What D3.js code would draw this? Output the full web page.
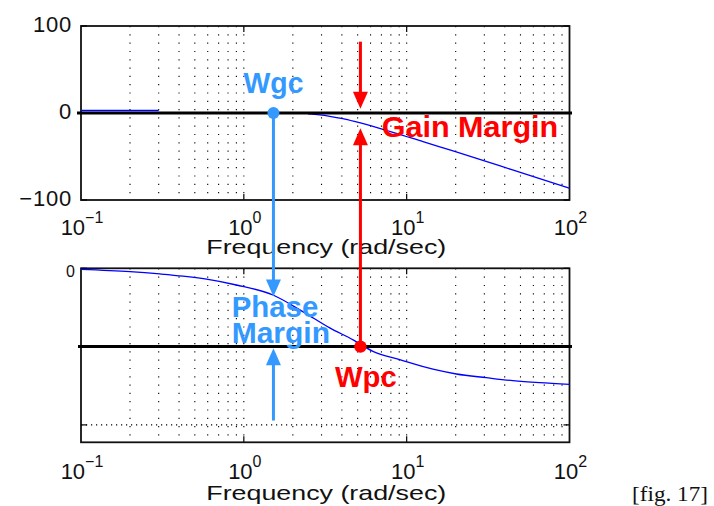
<!DOCTYPE html>
<html>
<head>
<meta charset="utf-8">
<script src="https://cdn.jsdelivr.net/npm/d3@7"></script>
<style>
  html, body { margin: 0; padding: 0; background: #fff; }
  svg { display: block; }
</style>
</head>
<body>
<div id="chart"></div>
<script>
// ---- data ----
const freqTicks = [0.1, 1, 10, 100];
const freqTickExp = ["\u22121", "0", "1", "2"];
const magTicks = [100, 0, -100];
const magTickLabels = ["100", "0", "\u2212100"];
const phaseTicks = [0, -360];
const phaseTickLabels = ["0", ""];

// magnitude (dB) – null marks the part hidden behind the 0 dB line
const magFreq = [0.1, 0.2, 0.3, 1.0, 2.48, 2.92, 3.37, 4.05, 4.91, 6.82, 8.64, 12.6, 18.4, 28.1, 44.7, 100];
const magDb   = [2.9, 2.9, 2.9, null, -1.0, -2.2, -3.8, -6.5, -10.3, -17.6, -23.3, -33, -42.5, -53.2, -65.5, -86.5];

// phase (deg)
const phaseFreq = [0.1, 0.2, 0.305, 0.423, 0.59, 0.90, 1.51, 2.30, 3.37, 4.69, 6.21, 9.06, 14.5, 20.2, 30.8, 44.9, 65.5, 100];
const phaseDeg  = [-2.5, -7.8, -13, -18, -25, -38.4, -61.4, -99.5, -137, -164.5, -191, -210, -232, -243, -251.5, -258.4, -263, -266.7];

// crossover frequencies and margin markers
const wgc = 1.52;           // gain crossover (rad/sec)
const wpc = 5.2;            // phase crossover (rad/sec)
const gainRef = 0;          // dB
const phaseRef = -180;      // deg
const gainArrowTop = 82;    // dB, tail of down arrow
const gainArrowTip = 5;     // dB
const gainUpTip = -17.6;    // dB
const phaseDownTip = -65;   // deg
const phaseUpTip = -184;    // deg
const phaseUpTail = -350;   // deg

// ---- layout ----
const W = 714, H = 506;
const L = 81, R = 569.5;
const top1 = 26, bot1 = 200;
const top2 = 268.3, bot2 = 442.3;

const svg = d3.select("#chart").append("svg")
  .attr("width", W).attr("height", H)
  .attr("viewBox", `0 0 ${W} ${H}`);
svg.append("rect").attr("width", W).attr("height", H).attr("fill", "#fff");

const x = d3.scaleLog().domain([0.1, 100]).range([L, R]);
const yMag = d3.scaleLinear().domain([-100, 100]).range([bot1, top1]);
const yPh = d3.scaleLinear().domain([-400, 0]).range([bot2, top2]);

const BLUE_ANN = "#3399ff";
const RED = "#ff0000";
const CURVE = "#0000ff";
const AX_FONT = "'Liberation Sans', Arial, Helvetica, sans-serif";

// grid frequencies (every 1..9 x 10^k)
const gridFreq = [];
[0.1, 1, 10].forEach(d => { for (let m = 1; m <= 9; m++) gridFreq.push(+(d * m).toPrecision(3)); });
const gridV = gridFreq.filter(f => f > 0.1 && f < 100);

function panel(yScale, yTop, yBot, hGrid) {
  const g = svg.append("g");
  g.selectAll("line.vg").data(gridV).join("line")
    .attr("x1", d => x(d)).attr("x2", d => x(d))
    .attr("y1", yTop).attr("y2", yBot)
    .attr("stroke", "#000").attr("stroke-width", 1.1)
    .attr("stroke-dasharray", "1.2,7.1");
  g.selectAll("line.hg").data(hGrid).join("line")
    .attr("x1", L).attr("x2", R)
    .attr("y1", d => yScale(d)).attr("y2", d => yScale(d))
    .attr("stroke", "#000").attr("stroke-width", 1.1)
    .attr("stroke-dasharray", "1.2,3.8");
  [1, 10].forEach(f => {
    g.append("line").attr("x1", x(f)).attr("x2", x(f)).attr("y1", yTop).attr("y2", yTop + 6)
      .attr("stroke", "#000").attr("stroke-width", 1.2);
    g.append("line").attr("x1", x(f)).attr("x2", x(f)).attr("y1", yBot).attr("y2", yBot - 6)
      .attr("stroke", "#000").attr("stroke-width", 1.2);
  });
  return g;
}

function box(yTop, yBot) {
  svg.append("rect").attr("x", L).attr("y", yTop)
    .attr("width", R - L).attr("height", yBot - yTop)
    .attr("fill", "none").attr("stroke", "#111").attr("stroke-width", 1.8);
}

function freqAxisLabels(yBase, yTitle) {
  const t = svg.append("g").attr("font-family", AX_FONT).attr("fill", "#111");
  freqTicks.forEach((f, i) => {
    const txt = t.append("text").attr("x", x(f) + 1).attr("y", yBase)
      .attr("text-anchor", "middle").attr("font-size", 22);
    txt.append("tspan").text("10");
    txt.append("tspan").attr("dy", -12).attr("font-size", 16).text(freqTickExp[i]);
  });
  t.append("text").attr("x", (L + R) / 2 + 1).attr("y", yTitle)
    .attr("text-anchor", "middle").attr("font-size", 21)
    .attr("textLength", 240).attr("lengthAdjust", "spacingAndGlyphs")
    .text("Frequency (rad/sec)");
}

// ---- top panel: magnitude ----
panel(yMag, top1, bot1, []);
box(top1, bot1);
magTicks.forEach(v => {
  [[L, L + 6], [R, R - 6]].forEach(([a, b]) =>
    svg.append("line").attr("x1", a).attr("x2", b).attr("y1", yMag(v)).attr("y2", yMag(v))
      .attr("stroke", "#000").attr("stroke-width", 1.2));
});
svg.append("g").attr("font-family", AX_FONT).attr("fill", "#111")
  .selectAll("text").data(magTicks).join("text")
  .attr("x", 72).attr("y", d => yMag(d) + 6)
  .attr("text-anchor", "end").attr("font-size", 22)
  .attr("letter-spacing", 0.8)
  .text((d, i) => magTickLabels[i]);
freqAxisLabels(235, 254);

const magPts = magFreq.map((f, i) => [f, magDb[i]]);
svg.append("path")
  .attr("d", d3.line().defined(d => d[1] !== null)
    .x(d => x(d[0])).y(d => yMag(d[1])).curve(d3.curveMonotoneX)(magPts))
  .attr("fill", "none").attr("stroke", CURVE).attr("stroke-width", 1.3);

svg.append("line").attr("x1", L - 4).attr("x2", R + 2.5)
  .attr("y1", yMag(gainRef)).attr("y2", yMag(gainRef))
  .attr("stroke", "#000").attr("stroke-width", 3);

// ---- bottom panel: phase ----
panel(yPh, top2, bot2, [-360]);
box(top2, bot2);
phaseTicks.forEach(v => {
  [[L, L + 6], [R, R - 6]].forEach(([a, b]) =>
    svg.append("line").attr("x1", a).attr("x2", b).attr("y1", yPh(v)).attr("y2", yPh(v))
      .attr("stroke", "#000").attr("stroke-width", 1.2));
});
svg.append("g").attr("font-family", AX_FONT).attr("fill", "#111")
  .selectAll("text").data(phaseTicks).join("text")
  .attr("x", 75).attr("y", d => yPh(d) + 8.5)
  .attr("text-anchor", "end").attr("font-size", 16)
  .text((d, i) => phaseTickLabels[i]);
freqAxisLabels(479, 499.5);

const phPts = phaseFreq.map((f, i) => [f, phaseDeg[i]]);
svg.append("path")
  .attr("d", d3.line().x(d => x(d[0])).y(d => yPh(d[1])).curve(d3.curveMonotoneX)(phPts))
  .attr("fill", "none").attr("stroke", CURVE).attr("stroke-width", 1.3);

svg.append("line").attr("x1", L - 3).attr("x2", R + 2.5)
  .attr("y1", yPh(phaseRef)).attr("y2", yPh(phaseRef))
  .attr("stroke", "#000").attr("stroke-width", 3);

// ---- annotations ----
function arrow(xp, yTail, yTip, color) {
  const dir = yTip > yTail ? 1 : -1;
  const headLen = 17, headW = 7.5;
  svg.append("line").attr("x1", xp).attr("x2", xp)
    .attr("y1", yTail).attr("y2", yTip - dir * headLen + dir)
    .attr("stroke", color).attr("stroke-width", 3);
  svg.append("path")
    .attr("d", `M${xp - headW},${yTip - dir * headLen} L${xp + headW},${yTip - dir * headLen} L${xp},${yTip} Z`)
    .attr("fill", color);
}

arrow(x(wgc), yMag(gainRef), yPh(phaseDownTip), BLUE_ANN);
arrow(x(wgc), yPh(phaseUpTail), yPh(phaseUpTip), BLUE_ANN);
svg.append("circle").attr("cx", x(wgc)).attr("cy", yMag(gainRef)).attr("r", 6).attr("fill", BLUE_ANN);

arrow(x(wpc), yMag(gainArrowTop), yMag(gainArrowTip), RED);
arrow(x(wpc), yPh(phaseRef), yMag(gainUpTip), RED);
svg.append("circle").attr("cx", x(wpc)).attr("cy", yPh(phaseRef)).attr("r", 6.2).attr("fill", RED);

const ann = svg.append("g").attr("font-family", AX_FONT).attr("font-weight", "bold").attr("font-size", 30);
ann.append("text").attr("x", 243.5).attr("y", 93.3).attr("fill", BLUE_ANN)
  .attr("textLength", 60).attr("lengthAdjust", "spacingAndGlyphs").text("Wgc");
ann.append("text").attr("x", 381.7).attr("y", 136.7).attr("fill", RED)
  .attr("textLength", 176.6).attr("lengthAdjust", "spacingAndGlyphs").text("Gain Margin");
ann.append("text").attr("x", 231.7).attr("y", 316.7).attr("fill", BLUE_ANN)
  .attr("textLength", 86.6).attr("lengthAdjust", "spacingAndGlyphs").text("Phase");
ann.append("text").attr("x", 231.7).attr("y", 343.3).attr("fill", BLUE_ANN)
  .attr("textLength", 98.3).attr("lengthAdjust", "spacingAndGlyphs").text("Margin");
ann.append("text").attr("x", 335).attr("y", 386.7).attr("fill", RED)
  .attr("textLength", 61.7).attr("lengthAdjust", "spacingAndGlyphs").text("Wpc");

svg.append("text").attr("x", 632).attr("y", 501)
  .attr("font-family", "'Liberation Serif', 'Times New Roman', serif")
  .attr("font-size", 22).attr("fill", "#111")
  .attr("textLength", 76).attr("lengthAdjust", "spacingAndGlyphs")
  .text("[fig. 17]");
</script>
</body>
</html>
